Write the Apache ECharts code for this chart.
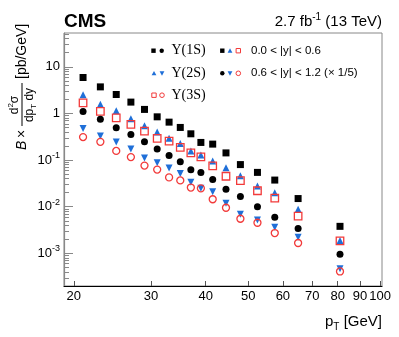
<!DOCTYPE html>
<html><head><meta charset="utf-8">
<script src="https://cdn.jsdelivr.net/npm/echarts@6/dist/echarts.min.js"></script>
<style>html,body{margin:0;padding:0;background:#fff}#c{width:399px;height:337px}</style>
</head><body><div id="c"></div>
<script>
// pT bin positions [GeV]
const pT = [21,23,25,27,29,31,33,35,37,39,41.5,44.5,48,52.5,57.5,65,81];
// B x d2sigma/dpT dy [pb/GeV], |y| < 0.6
const ups1S_y06 = [5.90,3.71,2.55,1.75,1.22,0.846,0.651,0.501,0.366,0.239,0.220,0.1426,0.0801,0.0545,0.0373,0.01498,0.00380];
const ups2S_y06 = [2.50,1.58,1.137,0.766,0.543,0.398,0.293,0.228,0.156,0.128,0.0952,0.0681,0.0463,0.0277,0.0199,0.00880,0.00189];
const ups3S_y06 = [1.686,1.104,0.805,0.581,0.418,0.291,0.255,0.187,0.143,0.1177,0.0751,0.0450,0.0364,0.0220,0.01536,0.00632,0.00186];
// 0.6 < |y| < 1.2 (x 1/5)
const ups1S_y12 = [1.104,0.755,0.491,0.355,0.2465,0.172,0.1248,0.0920,0.0623,0.0540,0.0386,0.0236,0.01654,0.00995,0.00593,0.00341,0.000961];
const ups2S_y12 = [0.477,0.3265,0.2428,0.172,0.1115,0.0876,0.0674,0.0519,0.0333,0.0248,0.0210,0.01182,0.00688,0.00519,0.00364,0.00221,0.000468];
const ups3S_y12 = [0.311,0.2465,0.1574,0.1159,0.0762,0.0626,0.0426,0.0367,0.0258,0.0248,0.01447,0.00952,0.00553,0.00454,0.00273,0.00167,0.000410];
// axis ticks
const xTicks = [20,30,40,50,60,70,80,90,100];
const yMajor = [0.001,0.01,0.1,1,10];
const yMinor = [0.0003,0.0004,0.0005,0.0006,0.0007,0.0008,0.0009,
  0.002,0.003,0.004,0.005,0.006,0.007,0.008,0.009,
  0.02,0.03,0.04,0.05,0.06,0.07,0.08,0.09,
  0.2,0.3,0.4,0.5,0.6,0.7,0.8,0.9,
  2,3,4,5,6,7,8,9,20,30,40,50];

const BLUE = '#1f6fd8', RED = '#f23a3a', BLACK = '#000';
const SANS = 'Liberation Sans', SERIF = 'Liberation Serif';

function pts(arr){ return pT.map((x,i)=>[x, arr[i]]); }

const chart = echarts.init(document.getElementById('c'), null, {renderer:'canvas'});

function mk(name, data, symbol, size, color, hollow, rot){
  return {
    type:'scatter', name, data: pts(data), symbol, symbolSize:size, symbolRotate: rot||0,
    itemStyle: hollow ? {color:'rgba(0,0,0,0)', borderColor:color, borderWidth:1.3, opacity:1} : {color, opacity:1},
    emphasis:{disabled:true}, silent:true, animation:false
  };
}

// legend built with graphics
const legendEls = [];
function sq(x,y,c,hollow){ legendEls.push({type:'rect', shape:{x:x-2.2,y:y-2.2,width:4.4,height:4.4}, style: hollow?{fill:'none',stroke:c,lineWidth:1}:{fill:c}}); }
function ci(x,y,c,hollow){ legendEls.push({type:'circle', shape:{cx:x,cy:y,r:hollow?2.3:2.2}, style: hollow?{fill:'none',stroke:c,lineWidth:1}:{fill:c}}); }
function tu(x,y,c){ legendEls.push({type:'polygon', shape:{points:[[x-2.4,y+2],[x+2.4,y+2],[x,y-2.4]]}, style:{fill:c}}); }
function td(x,y,c){ legendEls.push({type:'polygon', shape:{points:[[x-2.4,y-2],[x+2.4,y-2],[x,y+2.4]]}, style:{fill:c}}); }
function txt(x,y,t,fam,size){ legendEls.push({type:'text', x, y, style:{text:t, fill:'#000', fontFamily:fam, fontSize:size, align:'left', verticalAlign:'middle', textAlign:'left', textVerticalAlign:'middle'}}); }
const r1=50.7, r2=73.3, r3=95.2;
sq(153.5,r1,BLACK); ci(161.7,r1,BLACK); txt(171.5,r1,'\u03A5(1S)',SERIF,14);
tu(154,r2,BLUE); td(162,r2,BLUE); txt(171.5,r2,'\u03A5(2S)',SERIF,14);
sq(154,r3,RED,true); ci(162,r3,RED,true); txt(171.5,r3,'\u03A5(3S)',SERIF,14);
sq(222.3,r1,BLACK); tu(230,r1,BLUE); sq(238.3,r1,RED,true); txt(251,r1,'0.0 < |y| < 0.6',SANS,11.5);
ci(222.3,r2,BLACK); td(230,r2,BLUE); ci(238.3,r2,RED,true); txt(251,r2,'0.6 < |y| < 1.2 (\u00D7 1/5)',SANS,11.5);

// header texts
legendEls.push({type:'text', x:64, y:22, style:{text:'CMS', fill:'#000', fontFamily:SANS, fontWeight:'bold', fontSize:19, align:'left', verticalAlign:'middle', textAlign:'left', textVerticalAlign:'middle'}});
legendEls.push({type:'text', x:382, y:22, style:{text:'2.7 fb{sup|-1} (13 TeV)', fill:'#000', fontFamily:SANS, fontSize:15, lineHeight:20, align:'right', verticalAlign:'middle', textAlign:'right', textVerticalAlign:'middle',
  rich:{sup:{fontFamily:SANS, fontSize:10, verticalAlign:'top', lineHeight:10}}}});
legendEls.push({type:'text', x:382, y:322, style:{text:'p{sub|T} [GeV]', fill:'#000', fontFamily:SANS, fontSize:15, lineHeight:20, align:'right', verticalAlign:'middle', textAlign:'right', textVerticalAlign:'middle',
  rich:{sub:{fontFamily:SANS, fontSize:10, verticalAlign:'bottom', lineHeight:10}}}});

// y axis title (rotated group)
const yl = {type:'group', x:22, y:150, rotation:Math.PI/2, children:[
  {type:'text', x:0, y:0, style:{text:'B', fill:'#000', fontFamily:SANS, fontStyle:'italic', fontSize:14, align:'left', verticalAlign:'middle', textAlign:'left', textVerticalAlign:'middle'}},
  {type:'text', x:12, y:0, style:{text:'\u00D7', fill:'#000', fontFamily:SANS, fontSize:14, align:'left', verticalAlign:'middle', textAlign:'left', textVerticalAlign:'middle'}},
  {type:'text', x:45, y:-7, style:{text:'d{sup|2}\u03C3', fill:'#000', fontFamily:SANS, fontSize:12, lineHeight:16, align:'center', verticalAlign:'middle', textAlign:'center', textVerticalAlign:'middle', rich:{sup:{fontFamily:SANS, fontSize:8, verticalAlign:'top', lineHeight:8}}}},
  {type:'line', shape:{x1:24, y1:0, x2:67, y2:0}, style:{stroke:'#000', lineWidth:1}},
  {type:'text', x:45, y:7.5, style:{text:'dp{sub|T} dy', fill:'#000', fontFamily:SANS, fontSize:12, lineHeight:16, align:'center', verticalAlign:'middle', textAlign:'center', textVerticalAlign:'middle', rich:{sub:{fontFamily:SANS, fontSize:8, verticalAlign:'bottom', lineHeight:8}}}},
  {type:'text', x:71, y:0, style:{text:'[pb/GeV]', fill:'#000', fontFamily:SANS, fontSize:14, align:'left', verticalAlign:'middle', textAlign:'left', textVerticalAlign:'middle'}}
]};
legendEls.push(yl);

const option = {
  animation:false,
  backgroundColor:'#fff',
  grid:{left:64, right:17, top:33, bottom:51, show:true, borderColor:'#888', borderWidth:1, backgroundColor:'transparent'},
  xAxis:{type:'log', logBase:10, min:19, max:101,
    axisLine:{show:true, lineStyle:{color:'#000', width:1.2}},
    axisTick:{show:true, inside:true, length:5, customValues:xTicks, lineStyle:{color:'#555'}},
    axisLabel:{show:true, customValues:xTicks, fontFamily:SANS, fontSize:13, color:'#000', margin:4},
    splitLine:{show:false}, minorTick:{show:false}},
  yAxis:[
    {type:'log', logBase:10, min:2e-4, max:53,
      axisLine:{show:true, lineStyle:{color:'#888', width:1.2}},
      axisTick:{show:true, inside:true, length:9, customValues:yMajor, lineStyle:{color:'#888'}},
      axisLabel:{show:true, customValues:yMajor, fontFamily:SANS, fontSize:13, color:'#000', margin:4, lineHeight:18,
        formatter:function(v){ const e=Math.round(Math.log10(v)); if(e===0) return '1'; if(e===1) return '10'; return '10{sup|'+e+'}'; },
        rich:{sup:{fontFamily:SANS, fontSize:9, verticalAlign:'top', lineHeight:9, color:'#000'}}},
      splitLine:{show:false}},
    {type:'log', logBase:10, min:2e-4, max:53, position:'left', offset:0,
      axisLine:{show:false},
      axisTick:{show:true, inside:true, length:5, customValues:yMinor, lineStyle:{color:'#888'}},
      axisLabel:{show:false}, splitLine:{show:false}}
  ],
  series:[
    mk('1S |y|<0.6', ups1S_y06, 'rect', 7, BLACK, false),
    mk('2S |y|<0.6', ups2S_y06, 'triangle', 7, BLUE, false),
    mk('3S |y|<0.6', ups3S_y06, 'rect', 7.5, RED, true),
    mk('1S 0.6<|y|<1.2', ups1S_y12, 'circle', 7, BLACK, false),
    mk('2S 0.6<|y|<1.2', ups2S_y12, 'triangle', 7, BLUE, false, 180),
    mk('3S 0.6<|y|<1.2', ups3S_y12, 'circle', 7, RED, true)
  ],
  graphic: legendEls
};
chart.setOption(option);
</script>
</body></html>
